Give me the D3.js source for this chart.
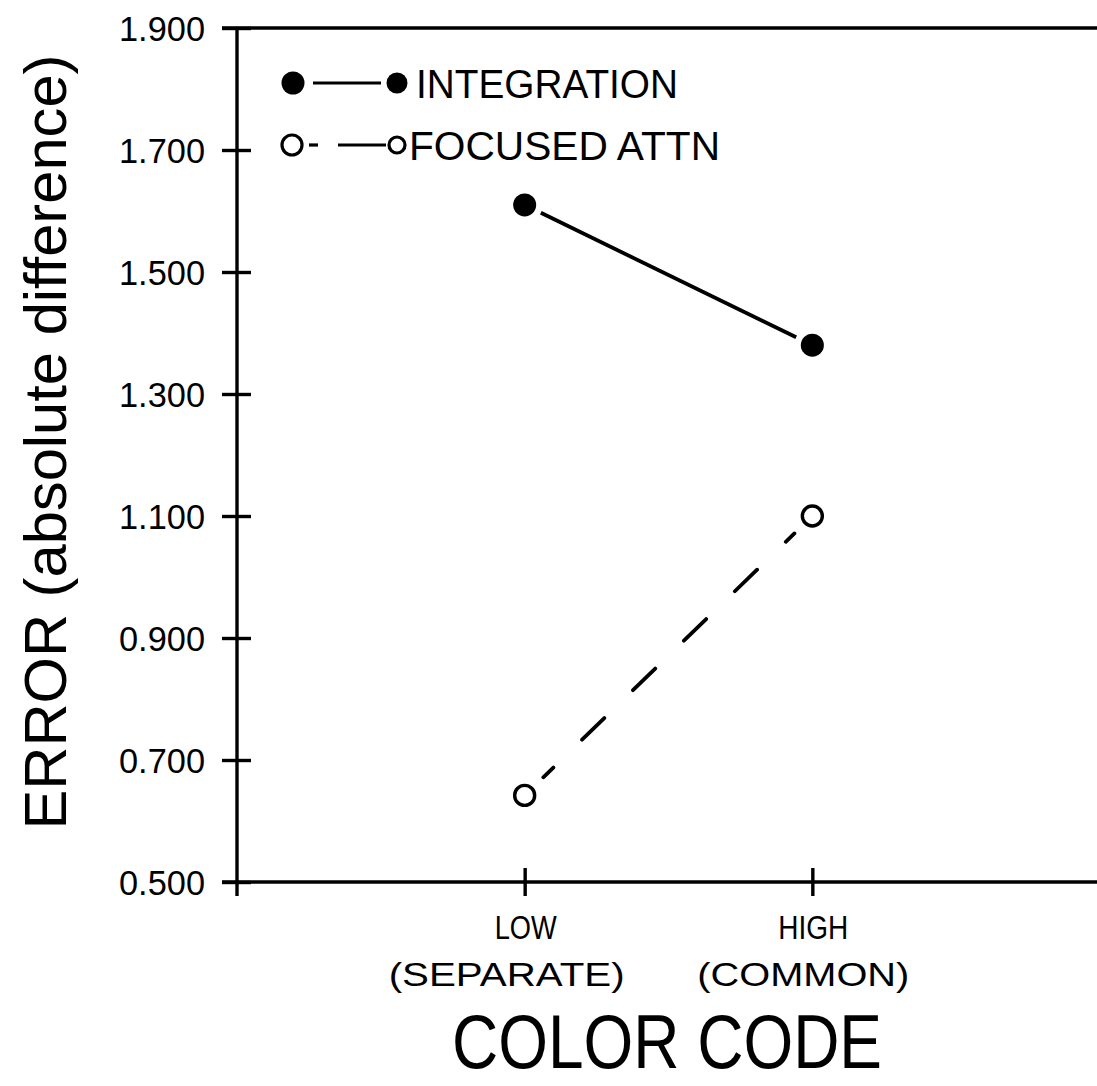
<!DOCTYPE html>
<html>
<head>
<meta charset="utf-8">
<script src="https://cdn.jsdelivr.net/npm/d3@7"></script>
<style>
  body { margin: 0; background: #fff; }
  svg { display: block; }
  text { fill: #000; }
</style>
</head>
<body>
<svg id="chart" width="1097" height="1086"></svg>
<script>
// data
const categories = ["LOW", "HIGH"];
const cat_sub = ["(SEPARATE)", "(COMMON)"];
const integration = [1.610, 1.380];
const focused = [0.642, 1.100];
const y_ticks = [0.5, 0.7, 0.9, 1.1, 1.3, 1.5, 1.7, 1.9];
const legend_names = ["INTEGRATION", "FOCUSED ATTN"];

const svg = d3.select('#chart');

const y = d3.scaleLinear().domain([0.5, 1.9]).range([882, 28]);
// categories sit at index 1 and 2 of a 0..3 axis
const x = d3.scaleLinear().domain([0, 3]).range([237, 1100]);

const axis_w = 3.4;
const sans = 'Liberation Sans, Arial, sans-serif';

// left axis
const y_axis = svg.append('g')
    .attr('transform', 'translate(' + x(0) + ',0)')
    .call(d3.axisLeft(y).tickValues(y_ticks).tickFormat(d3.format('.3f')).tickSize(15).tickPadding(17));
y_axis.select('.domain').remove();
y_axis.selectAll('.tick line').attr('x1', -15).attr('x2', 14).attr('stroke', '#000').attr('stroke-width', axis_w);
y_axis.selectAll('.tick text')
    .attr('font-family', sans)
    .attr('font-size', 35)
    .attr('textLength', 86)
    .attr('lengthAdjust', 'spacingAndGlyphs')
    .attr('fill', '#000')
    .attr('dy', '0.36em');
svg.append('line')
    .attr('x1', x(0)).attr('x2', x(0))
    .attr('y1', y(1.9)).attr('y2', y(0.5) + 14)
    .attr('stroke', '#000').attr('stroke-width', axis_w);

// top frame line
svg.append('line')
    .attr('x1', x(0) - 15).attr('x2', 1097)
    .attr('y1', y(1.9)).attr('y2', y(1.9))
    .attr('stroke', '#000').attr('stroke-width', axis_w);

// bottom axis
const x_axis = svg.append('g')
    .attr('transform', 'translate(0,' + y(0.5) + ')')
    .call(d3.axisBottom(x).tickValues([1, 2]).tickFormat('').tickSize(14));
x_axis.select('.domain').remove();
x_axis.selectAll('.tick line').attr('y1', -14).attr('y2', 14).attr('stroke', '#000').attr('stroke-width', axis_w);
svg.append('line')
    .attr('x1', x(0) - 15).attr('x2', 1097)
    .attr('y1', y(0.5)).attr('y2', y(0.5))
    .attr('stroke', '#000').attr('stroke-width', axis_w);

// category labels
const cat_g = svg.append('g')
    .attr('font-family', sans)
    .attr('text-anchor', 'middle');
const cat_w = [[62, 70], [236, 212]];
categories.forEach(function(c, i) {
    cat_g.append('text')
        .attr('x', x(i + 1) + 1)
        .attr('y', 939)
        .attr('font-size', 34)
        .attr('textLength', cat_w[0][i])
        .attr('lengthAdjust', 'spacingAndGlyphs')
        .text(c);
    cat_g.append('text')
        .attr('x', x(i + 1) + (i == 0 ? -18 : -9))
        .attr('y', 986)
        .attr('font-size', 33)
        .attr('textLength', cat_w[1][i])
        .attr('lengthAdjust', 'spacingAndGlyphs')
        .text(cat_sub[i]);
});

// axis titles
svg.append('text')
    .attr('x', 667)
    .attr('y', 1068)
    .attr('text-anchor', 'middle')
    .attr('font-family', sans)
    .attr('font-size', 76)
    .attr('textLength', 430)
    .attr('lengthAdjust', 'spacingAndGlyphs')
    .text('COLOR CODE');

svg.append('text')
    .attr('transform', 'translate(66,442) rotate(-90)')
    .attr('text-anchor', 'middle')
    .attr('font-family', sans)
    .attr('font-size', 60)
    .attr('textLength', 775)
    .attr('lengthAdjust', 'spacingAndGlyphs')
    .text('ERROR (absolute difference)');

// shortened segment between two markers
function seg(p0, p1, g0, g1) {
    let dx = p1[0] - p0[0], dy = p1[1] - p0[1];
    let len = Math.sqrt(dx * dx + dy * dy);
    return {
        x1: p0[0] + dx * g0 / len, y1: p0[1] + dy * g0 / len,
        x2: p1[0] - dx * g1 / len, y2: p1[1] - dy * g1 / len
    };
}

// integration series
let pts = integration.map(function(v, i) { return [x(i + 1), y(v)]; });
let s = seg(pts[0], pts[1], 18, 18);
svg.append('line')
    .attr('x1', s.x1).attr('y1', s.y1).attr('x2', s.x2).attr('y2', s.y2)
    .attr('stroke', '#000').attr('stroke-width', 3.8);
svg.selectAll('.int_pt').data(pts).enter().append('circle')
    .attr('class', 'int_pt')
    .attr('cx', function(d) { return d[0]; })
    .attr('cy', function(d) { return d[1]; })
    .attr('r', 11.5)
    .attr('fill', '#000');

// focused attention series, dash phase kept as on the full line
let fpts = focused.map(function(v, i) { return [x(i + 1), y(v)]; });
let g0 = 26;
let fs = seg(fpts[0], fpts[1], g0, 25);
svg.append('line')
    .attr('x1', fs.x1).attr('y1', fs.y1).attr('x2', fs.x2).attr('y2', fs.y2)
    .attr('stroke', '#000').attr('stroke-width', 3.8)
    .attr('stroke-linecap', 'round')
    .attr('stroke-dasharray', '31,40')
    .attr('stroke-dashoffset', (62 + g0) % 71);
svg.selectAll('.foc_pt').data(fpts).enter().append('circle')
    .attr('class', 'foc_pt')
    .attr('cx', function(d) { return d[0]; })
    .attr('cy', function(d) { return d[1]; })
    .attr('r', 10)
    .attr('fill', 'none')
    .attr('stroke', '#000')
    .attr('stroke-width', 3.4);

// legend
const leg = svg.append('g');
leg.append('circle').attr('cx', 293).attr('cy', 83).attr('r', 11.5).attr('fill', '#000');
leg.append('line').attr('x1', 313).attr('x2', 381).attr('y1', 83).attr('y2', 83)
    .attr('stroke', '#000').attr('stroke-width', 3.2);
leg.append('circle').attr('cx', 397).attr('cy', 83).attr('r', 10.5).attr('fill', '#000');

leg.append('circle').attr('cx', 292).attr('cy', 145).attr('r', 10)
    .attr('fill', 'none').attr('stroke', '#000').attr('stroke-width', 3.2);
leg.append('line').attr('x1', 309).attr('x2', 318).attr('y1', 145).attr('y2', 145)
    .attr('stroke', '#000').attr('stroke-width', 3.2);
leg.append('line').attr('x1', 338).attr('x2', 386).attr('y1', 145).attr('y2', 145)
    .attr('stroke', '#000').attr('stroke-width', 3.2);
leg.append('circle').attr('cx', 397).attr('cy', 145).attr('r', 8)
    .attr('fill', 'none').attr('stroke', '#000').attr('stroke-width', 3.2);

const leg_x = [416, 409];
const leg_w = [262, 311];
leg.selectAll('.leg_txt').data(legend_names).enter().append('text')
    .attr('class', 'leg_txt')
    .attr('x', function(d, i) { return leg_x[i]; })
    .attr('y', function(d, i) { return i == 0 ? 98 : 160; })
    .attr('font-family', sans)
    .attr('font-size', 40)
    .attr('textLength', function(d, i) { return leg_w[i]; })
    .attr('lengthAdjust', 'spacingAndGlyphs')
    .text(function(d) { return d; });
</script>
</body>
</html>
